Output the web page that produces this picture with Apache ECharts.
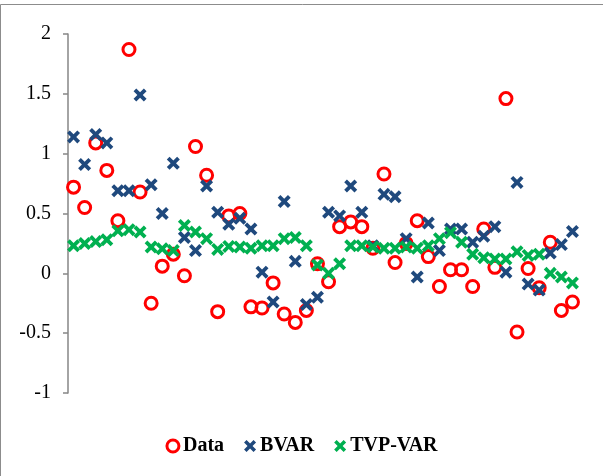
<!DOCTYPE html>
<html>
<head>
<meta charset="utf-8">
<script src="https://cdn.jsdelivr.net/npm/echarts@6/dist/echarts.min.js"></script>
<style>
html,body{margin:0;padding:0;background:#fff;}
#chart{width:603px;height:476px;}
</style>
</head>
<body>
<div id="chart"></div>
<script>
// ---- data ----
var categories = ["1","2","3","4","5","6","7","8","9","10","11","12","13","14","15","16","17","18","19","20","21","22","23","24","25","26","27","28","29","30","31","32","33","34","35","36","37","38","39","40","41","42","43","44","45","46"];
var dataValues = [0.72,0.55,1.09,0.86,0.44,1.87,0.68,-0.25,0.06,0.16,-0.02,1.06,0.82,-0.32,0.48,0.50,-0.28,-0.29,-0.08,-0.34,-0.41,-0.31,0.08,-0.07,0.39,0.43,0.39,0.21,0.83,0.09,0.25,0.44,0.14,-0.11,0.03,0.03,-0.11,0.37,0.05,1.46,-0.49,0.04,-0.12,0.26,-0.31,-0.24];
var bvarValues = [1.14,0.91,1.16,1.09,0.69,0.69,1.49,0.74,0.50,0.92,0.30,0.19,0.73,0.51,0.41,0.46,0.37,0.01,-0.24,0.60,0.10,-0.26,-0.20,0.51,0.48,0.73,0.51,0.23,0.66,0.64,0.29,-0.03,0.42,0.19,0.37,0.37,0.26,0.31,0.39,0.01,0.76,-0.09,-0.14,0.17,0.24,0.35];
var tvpValues = [0.23,0.25,0.265,0.28,0.355,0.365,0.345,0.22,0.205,0.19,0.40,0.345,0.29,0.20,0.225,0.22,0.21,0.23,0.23,0.29,0.30,0.23,0.07,0.00,0.08,0.23,0.23,0.22,0.21,0.21,0.22,0.21,0.23,0.29,0.34,0.26,0.16,0.13,0.12,0.12,0.18,0.15,0.16,0.00,-0.03,-0.08];
var seriesNames = ["Data","BVAR","TVP-VAR"];
var yMin = -1, yMax = 2, yInterval = 0.5;

// ---- style ----
var xPath = 'path://M2.5,0 L6,3.5 L9.5,0 L12,2.5 L8.5,6 L12,9.5 L9.5,12 L6,8.5 L2.5,12 L0,9.5 L3.5,6 L0,2.5 Z';
var serif = '"Liberation Serif","Times New Roman",serif';

var chart = echarts.init(document.getElementById('chart'));
chart.setOption({
  animation: false,
  backgroundColor: '#fff',
  graphic: [{
    type: 'rect',
    shape: {x: 0.5, y: 4.5, width: 640, height: 520},
    style: {fill: 'none', stroke: '#8c8c8c', lineWidth: 1},
    silent: true
  }],
  grid: {left: 68, right: 25, top: 34, bottom: 83, containLabel: false},
  legend: {
    data: [
      {name: seriesNames[0], icon: 'circle', itemStyle: {color: '#fff', borderColor: '#FF0000', borderWidth: 3}},
      {name: seriesNames[1], icon: xPath},
      {name: seriesNames[2], icon: xPath}
    ],
    left: 'center',
    top: 431,
    itemWidth: 12,
    itemHeight: 12,
    itemGap: 20,
    textStyle: {fontFamily: serif, fontSize: 20, fontWeight: 'bold', color: '#000', padding: [0,0,0,-1]}
  },
  xAxis: {
    type: 'category',
    data: categories,
    boundaryGap: true,
    axisLine: {show: false},
    axisTick: {show: false},
    axisLabel: {show: false},
    splitLine: {show: false}
  },
  yAxis: {
    type: 'value',
    min: yMin, max: yMax, interval: yInterval,
    axisLine: {show: true, lineStyle: {color: '#868686', width: 1.5}},
    axisTick: {show: true, length: 5, inside: false, lineStyle: {color: '#868686', width: 1.5}},
    axisLabel: {fontFamily: serif, fontSize: 20, color: '#000', margin: 17},
    splitLine: {show: false}
  },
  series: [
    {
      name: seriesNames[0], type: 'scatter', data: dataValues,
      symbol: 'circle', symbolSize: 12,
      itemStyle: {color: 'rgba(255,255,255,0)', borderColor: '#FF0000', borderWidth: 3, opacity: 1}
    },
    {
      name: seriesNames[1], type: 'scatter', data: bvarValues,
      symbol: xPath, symbolSize: 13,
      itemStyle: {color: '#1F497D', opacity: 1}
    },
    {
      name: seriesNames[2], type: 'scatter', data: tvpValues,
      symbol: xPath, symbolSize: 13,
      itemStyle: {color: '#00B050', opacity: 1}
    }
  ]
});
</script>
</body>
</html>
